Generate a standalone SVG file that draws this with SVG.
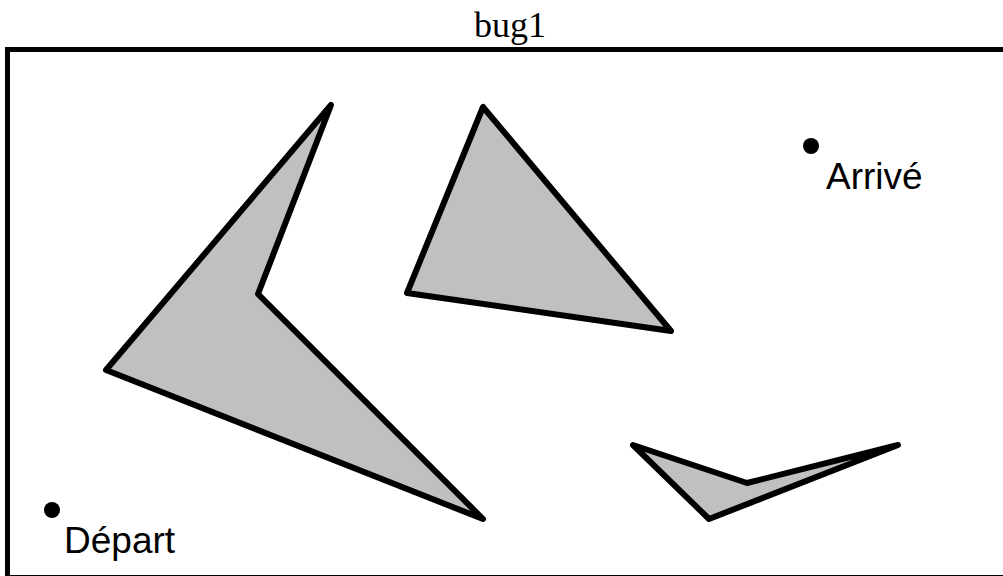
<svg xmlns="http://www.w3.org/2000/svg" width="1003" height="576" viewBox="0 0 1003 576">
<style>
.obs{fill:#c0c0c0;stroke:#000;stroke-width:6;stroke-linejoin:round}
.lbl{font-family:"Liberation Sans",Arial,sans-serif;font-size:37px;fill:#000}
.dot{fill:#000}
</style>
<rect x="0" y="0" width="1003" height="576" fill="#fff"/>
<text x="510" y="37" font-family="'Liberation Serif','Times New Roman',serif" font-size="36" text-anchor="middle">bug1</text>
<rect x="7.5" y="49.5" width="1010" height="528" fill="none" stroke="#000" stroke-width="5"/>
<g id="obstacle1"><polygon class="obs" points="331,105 258,294 483,519 106,370"/></g>
<g id="obstacle2"><polygon class="obs" points="483,107 407,293 671,331"/></g>
<g id="obstacle3"><polygon class="obs" points="633,445 747,483 898,445 709,519"/></g>
<g id="depart"><circle class="dot" cx="52" cy="510" r="8"/><text class="lbl" x="64" y="553">Départ</text></g>
<g id="arrive"><circle class="dot" cx="811" cy="146" r="8"/><text class="lbl" x="826" y="189">Arrivé</text></g>
</svg>
